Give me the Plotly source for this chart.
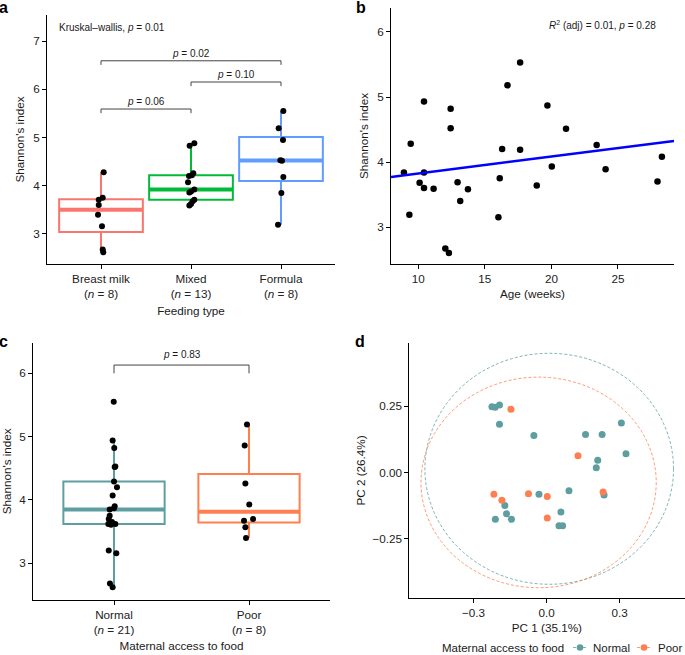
import numpy as np
import plotly.graph_objects as go

# ---------------- Data ----------------
# Panel a: Shannon index by feeding type
feeding_types = ["Breast milk", "Mixed", "Formula"]
feeding_n = [8, 13, 8]
feeding_colors = ["#F8766D", "#00BA38", "#619CFF"]
shannon_breast = [4.28, 3.75, 3.71, 3.60, 3.40, 3.16, 2.68, 2.62]
shannon_mixed = [4.88, 4.83, 4.26, 4.22, 4.20, 4.07, 3.92, 3.88, 3.86, 3.71, 3.68, 3.62, 3.59]
shannon_formula = [5.55, 5.19, 4.95, 4.53, 4.52, 4.18, 3.85, 3.19]
jitter_breast = [0.030, 0.019, -0.025, -0.025, -0.033, 0.011, 0.019, 0.025]
jitter_mixed = [0.037, -0.015, 0.026, 0.010, -0.022, -0.033, 0.037, 0.0, -0.018, 0.037, 0.018, 0.0, -0.018]
jitter_formula = [0.026, -0.026, 0.022, -0.007, 0.011, 0.026, 0.004, -0.033]
pairs_a = [(0, 1), (1, 2), (0, 2)]
bracket_y_a = [5.59, 6.15, 6.59]
bracket_p_a = ["0.06", "0.10", "0.02"]
kruskal_p = "0.01"

# Panel b: Shannon index vs age
age_weeks = [9.43, 10.43, 12.43, 12.43, 17.65, 16.70, 19.70, 21.10, 16.30, 17.65, 23.40, 28.30,
             8.92, 9.33, 10.10, 10.43, 10.43, 11.15, 12.03, 12.30, 12.95, 13.15, 13.73, 16.02,
             16.12, 18.90, 20.03, 24.07, 27.97]
shannon_age = [4.28, 4.93, 4.82, 4.52, 5.53, 5.18, 4.87, 4.51, 4.20, 4.19, 4.26, 4.08,
               3.84, 3.19, 3.68, 3.84, 3.60, 3.59, 2.67, 2.60, 3.69, 3.40, 3.58, 3.15,
               3.75, 3.64, 3.93, 3.89, 3.70]
r2_adj = "0.01"
p_lm = "0.28"

# Panel c: Shannon index by maternal access to food
access_groups = ["Normal", "Poor"]
access_n = [21, 8]
access_colors = ["#5F9EA0", "#FF7F50"]
shannon_normal = [5.55, 4.94, 4.82, 4.53, 4.52, 4.29, 4.20, 4.07, 3.90, 3.87, 3.85, 3.75, 3.70,
                  3.65, 3.62, 3.62, 3.61, 3.20, 3.16, 2.68, 2.62]
shannon_poor = [5.19, 4.86, 4.26, 3.93, 3.70, 3.67, 3.57, 3.40]
jitter_normal = [-0.002, -0.010, 0.002, 0.010, 0.005, 0.0, 0.022, -0.010, 0.005, 0.0, -0.032,
                 -0.032, -0.039, -0.015, -0.042, 0.010, -0.022, -0.039, 0.017, -0.030, -0.010]
jitter_poor = [-0.015, -0.032, -0.027, 0.002, 0.030, -0.037, -0.027, -0.022]
bracket_y_c = 6.13
bracket_p_c = "0.83"

# Panel d: PCA
pc1_normal = [-0.224, -0.211, -0.193, -0.193, -0.052, 0.160, 0.228, 0.307, 0.326, 0.210, 0.204,
              -0.031, 0.092, 0.236, -0.171, -0.164, -0.144, -0.210, 0.059, 0.051, 0.066]
pc2_normal = [0.248, 0.246, 0.255, 0.182, 0.140, 0.143, 0.143, 0.187, 0.071, 0.046, 0.018,
              -0.082, -0.069, -0.085, -0.125, -0.156, -0.177, -0.177, -0.149, -0.201, -0.201]
pc1_poor = [-0.146, 0.129, -0.216, -0.183, -0.074, 0.003, 0.003, 0.232]
pc2_poor = [0.239, 0.063, -0.082, -0.105, -0.080, -0.091, -0.172, -0.074]
# ellipse bounds: [x0, x1, y0, y1]
ellipse_normal = [-0.499, 0.521, -0.422, 0.450]
ellipse_poor = [-0.515, 0.450, -0.435, 0.360]

# ---------------- Figure ----------------
W, H = 685, 655
FONT = "Liberation Sans, Arial, Helvetica, sans-serif"
TICK_FS = 11.7
TXT = "#1a1a1a"


def px_x(p):
    return p / W


def px_y(p):
    return 1 - p / H


def ax(**kw):
    d = dict(showline=True, linecolor="black", linewidth=1, ticks="outside", ticklen=4,
             tickwidth=1, tickcolor="black", showgrid=False, zeroline=False,
             tickfont=dict(size=TICK_FS, color="#222222", family=FONT),
             title_font=dict(size=TICK_FS, color=TXT, family=FONT), fixedrange=True)
    d.update(kw)
    return d


def box_stats(vals):
    v = np.asarray(vals, dtype=float)
    q1, med, q3 = np.percentile(v, [25, 50, 75])
    iqr = q3 - q1
    lo = v[v >= q1 - 1.5 * iqr].min()
    hi = v[v <= q3 + 1.5 * iqr].max()
    return float(q1), float(med), float(q3), float(lo), float(hi)


def add_box(fig, i, vals, col, width, xa, ya):
    q1, med, q3, lo, hi = box_stats(vals)
    fig.add_trace(go.Box(x=[i], q1=[q1], median=[med], q3=[q3], lowerfence=[lo],
                         upperfence=[hi], width=width, boxpoints=False,
                         line=dict(color=col, width=2), fillcolor="white", whiskerwidth=0,
                         xaxis=xa, yaxis=ya, showlegend=False, hoverinfo="skip"))
    fig.add_trace(go.Scatter(x=[i - width / 2, i + width / 2], y=[med, med], mode="lines",
                             line=dict(color=col, width=4), xaxis=xa, yaxis=ya,
                             showlegend=False, hoverinfo="skip"))


fig = go.Figure()

# ---- Panel a
groups_a = [shannon_breast, shannon_mixed, shannon_formula]
jit_a = [jitter_breast, jitter_mixed, jitter_formula]
box_w_a = 0.93
for i, (vals, col) in enumerate(zip(groups_a, feeding_colors)):
    add_box(fig, i, vals, col, box_w_a, "x", "y")
for i, (vals, jit) in enumerate(zip(groups_a, jit_a)):
    fig.add_trace(go.Scatter(x=[i + j for j in jit], y=vals, mode="markers",
                             marker=dict(color="black", size=6), xaxis="x", yaxis="y",
                             showlegend=False))

drop_a = 0.085
annotations = []
for (g1, g2), yb, p in zip(pairs_a, bracket_y_a, bracket_p_a):
    fig.add_trace(go.Scatter(x=[g1, g1, g2, g2], y=[yb - drop_a, yb, yb, yb - drop_a],
                             mode="lines", line=dict(color="#444444", width=1),
                             xaxis="x", yaxis="y", showlegend=False, hoverinfo="skip"))
    annotations.append(dict(x=(g1 + g2) / 2, y=yb + 0.16, xref="x", yref="y",
                            text=f"<i>p</i> = {p}", showarrow=False,
                            font=dict(size=10, color=TXT, family=FONT)))
annotations.append(dict(x=-0.49, y=7.27, xref="x", yref="y", xanchor="left",
                        text=f"Kruskal–wallis, <i>p</i> = {kruskal_p}", showarrow=False,
                        font=dict(size=10, color=TXT, family=FONT)))

# ---- Panel b
fig.add_trace(go.Scatter(x=age_weeks, y=shannon_age, mode="markers",
                         marker=dict(color="black", size=6.5), xaxis="x2", yaxis="y2",
                         showlegend=False))
xr_b = [7.95, 29.21]
slope, intercept = np.polyfit(age_weeks, shannon_age, 1)
fig.add_trace(go.Scatter(x=xr_b, y=[intercept + slope * v for v in xr_b], mode="lines",
                         line=dict(color="#0000FF", width=2.5), xaxis="x2", yaxis="y2",
                         showlegend=False, hoverinfo="skip"))
annotations.append(dict(x=28.0, y=6.11, xref="x2", yref="y2", xanchor="right",
                        text=f"<i>R</i><sup>2</sup> (adj) = {r2_adj}, <i>p</i> = {p_lm}",
                        showarrow=False, font=dict(size=10, color=TXT, family=FONT)))

# ---- Panel c
groups_c = [shannon_normal, shannon_poor]
jit_c = [jitter_normal, jitter_poor]
box_w_c = 0.75
for i, (vals, col) in enumerate(zip(groups_c, access_colors)):
    add_box(fig, i, vals, col, box_w_c, "x3", "y3")
for i, (vals, jit) in enumerate(zip(groups_c, jit_c)):
    fig.add_trace(go.Scatter(x=[i + j for j in jit], y=vals, mode="markers",
                             marker=dict(color="black", size=6), xaxis="x3", yaxis="y3",
                             showlegend=False))
drop_c = 0.13
fig.add_trace(go.Scatter(x=[0, 0, 1, 1], y=[bracket_y_c - drop_c, bracket_y_c, bracket_y_c, bracket_y_c - drop_c],
                         mode="lines", line=dict(color="#444444", width=1),
                         xaxis="x3", yaxis="y3", showlegend=False, hoverinfo="skip"))
annotations.append(dict(x=0.5, y=bracket_y_c + 0.17, xref="x3", yref="y3",
                        text=f"<i>p</i> = {bracket_p_c}", showarrow=False,
                        font=dict(size=10, color=TXT, family=FONT)))

# ---- Panel d
shapes = []
for col, ell in zip(access_colors, [ellipse_normal, ellipse_poor]):
    shapes.append(dict(type="circle", xref="x4", yref="y4", x0=ell[0], x1=ell[1],
                       y0=ell[2], y1=ell[3], line=dict(color=col, width=0.8, dash="3px,2px"),
                       layer="below"))
for (pc1, pc2), col, name in zip([(pc1_normal, pc2_normal), (pc1_poor, pc2_poor)],
                                access_colors, access_groups):
    fig.add_trace(go.Scatter(x=pc1, y=pc2, mode="markers", name=name,
                             marker=dict(color=col, size=7), xaxis="x4", yaxis="y4",
                             showlegend=False))

# manual legend for panel d
LEG_PX = 647.5
leg_y = px_y(LEG_PX)
annotations.append(dict(x=px_x(440), y=leg_y, xref="paper", yref="paper", xanchor="left",
                        yanchor="middle", text="Maternal access to food", showarrow=False,
                        font=dict(size=11.5, color=TXT, family=FONT)))
key_x = [(573, 587, 591), (637, 651, 656)]
for (k0, k1, tx), col, name in zip(key_x, access_colors, access_groups):
    shapes.append(dict(type="line", xref="paper", yref="paper", x0=px_x(k0), x1=px_x(k1),
                       y0=leg_y, y1=leg_y, line=dict(color=col, width=0.8, dash="3px,2px")))
    cx = (k0 + k1) / 2
    shapes.append(dict(type="circle", xref="paper", yref="paper", x0=px_x(cx - 3.3),
                       x1=px_x(cx + 3.3), y0=px_y(LEG_PX + 3.3), y1=px_y(LEG_PX - 3.3),
                       fillcolor=col, line=dict(width=0)))
    annotations.append(dict(x=px_x(tx), y=leg_y, xref="paper", yref="paper", xanchor="left",
                            yanchor="middle", text=name, showarrow=False,
                            font=dict(size=11.5, color=TXT, family=FONT)))

# panel letters
for letter, (lx, ly) in zip("abcd", [(4, 8), (361, 7), (4, 341), (360, 341)]):
    annotations.append(dict(x=px_x(lx), y=px_y(ly), xref="paper", yref="paper",
                            xanchor="center", yanchor="middle", text=f"<b>{letter}</b>",
                            showarrow=False, font=dict(size=16, color="black", family=FONT)))

fig.update_layout(
    width=W, height=H, margin=dict(l=0, r=0, t=0, b=0),
    paper_bgcolor="white", plot_bgcolor="white", template="none",
    font=dict(family=FONT, color=TXT, size=TICK_FS),
    showlegend=False,
    xaxis=ax(domain=[px_x(47), px_x(335)], range=[-0.6, 2.6], anchor="y",
             tickvals=[0, 1, 2],
             ticktext=[f"{t}<br>(<i>n</i> = {n})" for t, n in zip(feeding_types, feeding_n)],
             title=dict(text="Feeding type", standoff=7)),
    yaxis=ax(domain=[px_y(264), px_y(15)], range=[2.378, 7.539], anchor="x",
             tickvals=[3, 4, 5, 6, 7], title=dict(text="Shannon's index", standoff=6)),
    xaxis2=ax(domain=[px_x(391), px_x(674)], range=xr_b, anchor="y2",
              tickvals=[10, 15, 20, 25], title=dict(text="Age (weeks)", standoff=5)),
    yaxis2=ax(domain=[px_y(264), px_y(8)], range=[2.431, 6.369], anchor="x2",
              tickvals=[3, 4, 5, 6], title=dict(text="Shannon's index", standoff=6)),
    xaxis3=ax(domain=[px_x(33), px_x(330)], range=[-0.6, 1.6], anchor="y3",
              tickvals=[0, 1],
              ticktext=[f"{t}<br>(<i>n</i> = {n})" for t, n in zip(access_groups, access_n)],
              title=dict(text="Maternal access to food", standoff=6)),
    yaxis3=ax(domain=[px_y(600), px_y(342.7)], range=[2.42, 6.483], anchor="x3",
              tickvals=[3, 4, 5, 6], title=dict(text="Shannon's index", standoff=5)),
    xaxis4=ax(domain=[px_x(409.3), px_x(684.5)], range=[-0.563, 0.566], anchor="y4",
              tickvals=[-0.3, 0, 0.3], ticktext=["−0.3", "0.0", "0.3"],
              title=dict(text="PC 1 (35.1%)", standoff=5)),
    yaxis4=ax(domain=[px_y(598.3), px_y(342.7)], range=[-0.475, 0.49], anchor="x4",
              tickvals=[-0.25, 0, 0.25], ticktext=["−0.25", "0.00", "0.25"],
              title=dict(text="PC 2 (26.4%)", standoff=4)),
    annotations=annotations,
    shapes=shapes,
)

fig.write_html("out.html", config={"displayModeBar": False},
               post_script="document.body.style.margin='0px';document.body.style.overflow='hidden';")
